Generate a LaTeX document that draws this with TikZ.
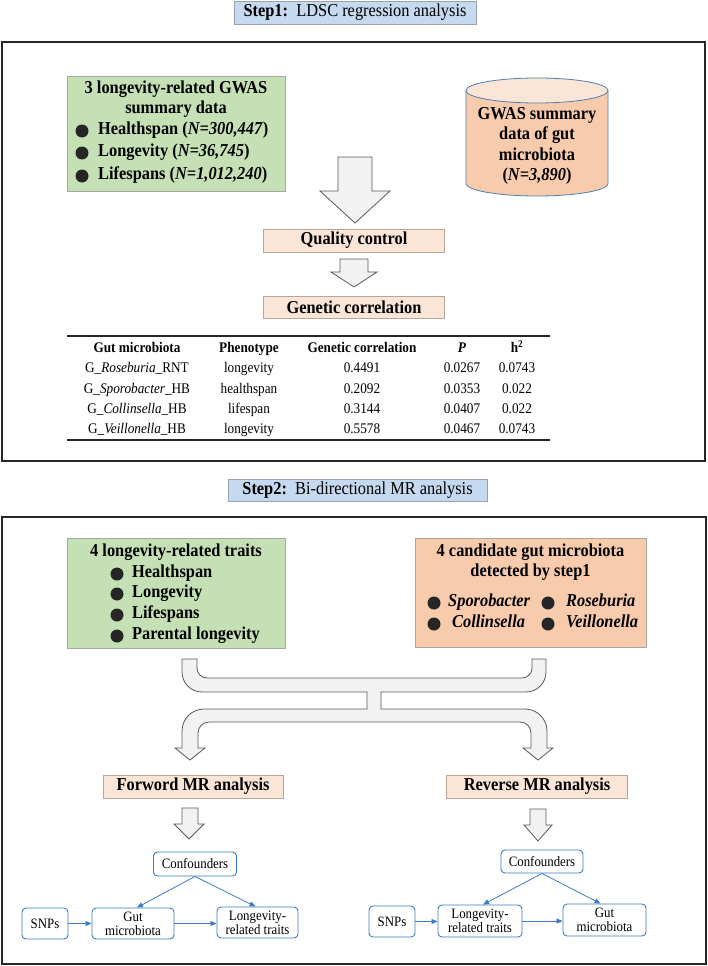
\documentclass[tikz,border=0pt]{standalone}
\usepackage{fontspec}
\setmainfont{Liberation Serif}[FakeStretch=0.9]
\usetikzlibrary{arrows.meta}
\definecolor{hdrblue}{HTML}{C5D9F1}
\definecolor{hdrline}{HTML}{9AA3AD}
\definecolor{grfill}{HTML}{C5E0B4}
\definecolor{orfill}{HTML}{F8CBAD}
\definecolor{orlight}{HTML}{FBE5D6}
\definecolor{boxline}{HTML}{A6A6A6}
\definecolor{pline}{HTML}{B8A498}
\definecolor{cylline}{HTML}{4F7FB0}
\definecolor{arrfill}{HTML}{F2F2F2}
\definecolor{arrline}{HTML}{5A5A5A}
\definecolor{flowblue}{HTML}{3D7CC4}
\newcommand\bigbold{\fontsize{18.2}{20.5}\selectfont\bfseries}
\newcommand\hdrfont{\fontsize{18.2}{20}\selectfont}
\newcommand\flowfont{\fontsize{14.3}{14}\selectfont}
\newcommand\tabfont{\fontsize{14.7}{16}\selectfont}
\begin{document}
\begin{tikzpicture}[x=1pt,y=-1pt,
  hdr/.style={draw=hdrline, fill=hdrblue, line width=0.8pt, inner sep=0pt, font=\hdrfont},
  frame/.style={draw=black!85, line width=1.6pt},
  gbox/.style={draw=boxline, fill=grfill, line width=0.8pt, inner sep=0pt},
  obox/.style={draw=boxline, fill=orfill, line width=0.8pt, inner sep=0pt},
  pbox/.style={draw=pline, fill=orlight, line width=0.8pt, font=\bigbold, inner sep=0pt},
  bigarrow/.style={draw=arrline, fill=arrfill, line width=0.8pt, line join=miter},
  bul/.style={fill=black!85, draw=none},
  txt/.style={inner sep=0pt, font=\bigbold, text height=0.72em, text depth=0.05em},
  ttxt/.style={inner sep=0pt, font=\tabfont, text height=0.72em, text depth=0.05em},
  flow/.style={draw=flowblue, line width=0.9pt, rounded corners=4pt, align=center, font=\flowfont, inner sep=0pt},
  flowarr/.style={draw=flowblue, line width=0.8pt, -{Triangle[length=6pt,width=5pt]}},
  rule/.style={line width=1.5pt, draw=black!85},
]
\useasboundingbox (0,0) rectangle (708,966);
\fill[white] (0,0) rectangle (708,966);

% frames
\draw[frame] (2,42) rectangle (705,461);
\draw[frame] (2,517) rectangle (706,964);

% headers
\node[hdr, minimum width=242, minimum height=23] (h1) at (355,12.5) {\textbf{Step1:}\ \ LDSC regression analysis};
\node[hdr, minimum width=259, minimum height=22] (h2) at (357.5,490) {\textbf{Step2:}\ \ Bi-directional MR analysis};

% ---------- Step 1 ----------
\node[gbox, minimum width=218, minimum height=115, anchor=north west] (g1) at (67,76) {};
\node[txt] (g1t1) at (176,90) {3 longevity-related GWAS};
\node[txt] (g1t2) at (176,110) {summary data};
\fill[bul] (82,131) circle[radius=6.5];
\fill[bul] (82,153) circle[radius=6.5];
\fill[bul] (82,176) circle[radius=6.5];
\node[txt, anchor=west] (g1b1) at (98,131) {Healthspan (\textit{N=300,447})};
\node[txt, anchor=west] (g1b2) at (98,153) {Longevity (\textit{N=36,745})};
\node[txt, anchor=west] (g1b3) at (98,176) {Lifespans (\textit{N=1,012,240})};

% cylinder
\draw[draw=cylline, fill=orfill, line width=0.8pt] (466,90.5) -- (466,183.5)
  arc[start angle=180, end angle=0, x radius=71, y radius=12.5] -- (608,90.5);
\draw[draw=cylline, fill=orlight, line width=0.8pt] (537,90.5) ellipse[x radius=71, y radius=12.5];
\node[inner sep=0pt, font=\bigbold, align=center] (cyl) at (537,146) {GWAS summary\\data of gut\\microbiota\\(\textit{N=3,890})};

% arrows and steps
\draw[bigarrow] (338,157) -- (372,157) -- (372,191) -- (390,191) -- (355,223) -- (320,191) -- (338,191) -- cycle;
\node[pbox, minimum width=181, minimum height=23] (qc) at (354,240.5) {Quality control};
\draw[bigarrow] (340,259) -- (368,259) -- (368,272) -- (377,272) -- (354,287) -- (331,272) -- (340,272) -- cycle;
\node[pbox, minimum width=181, minimum height=22] (gc) at (354,307) {Genetic correlation};

% table
\draw[rule] (67,336) -- (550,336);
\draw[rule] (67,440) -- (550,440);
\node[ttxt, font=\tabfont\bfseries] (th1) at (137,349) {Gut microbiota};
\node[ttxt, font=\tabfont\bfseries] (th2) at (249,349) {Phenotype};
\node[ttxt, font=\tabfont\bfseries] (th3) at (362,349) {Genetic correlation};
\node[ttxt, font=\tabfont\bfseries] (th4) at (462,349) {\textit{P}};
\node[ttxt, font=\tabfont\bfseries] (th5) at (517,349) {h\textsuperscript{2}};
\foreach \r/\y/\a/\b/\c/\d/\e in {
  1/369/{G\_\textit{Roseburia}\_RNT}/longevity/0.4491/0.0267/0.0743,
  2/390/{G\_\textit{Sporobacter}\_HB}/healthspan/0.2092/0.0353/0.022,
  3/410/{G\_\textit{Collinsella}\_HB}/lifespan/0.3144/0.0407/0.022,
  4/430/{G\_\textit{Veillonella}\_HB}/longevity/0.5578/0.0467/0.0743}{
  \node[ttxt] (t\r a) at (137,\y) {\a};
  \node[ttxt] (t\r b) at (249,\y) {\b};
  \node[ttxt] (t\r c) at (362,\y) {\c};
  \node[ttxt] (t\r d) at (462,\y) {\d};
  \node[ttxt] (t\r e) at (517,\y) {\e};
}

% ---------- Step 2 ----------
\node[gbox, minimum width=218, minimum height=110, anchor=north west] (g2) at (67,538) {};
\node[txt] (g2t) at (176,553) {4 longevity-related traits};
\foreach \i/\y in {1/574,2/594,3/615,4/636}{\fill[bul] (117,\y) circle[radius=6.5];}
\node[txt, anchor=west] (g2b1) at (132,574) {Healthspan};
\node[txt, anchor=west] (g2b2) at (132,594) {Longevity};
\node[txt, anchor=west] (g2b3) at (132,615) {Lifespans};
\node[txt, anchor=west] (g2b4) at (132,636) {Parental longevity};

\node[obox, minimum width=231, minimum height=109, anchor=north west] (o2) at (415,538) {};
\node[txt] (o2t1) at (530.5,553) {4 candidate gut microbiota};
\node[txt] (o2t2) at (530.5,573) {detected by step1};
\fill[bul] (434,603) circle[radius=6.5];
\fill[bul] (434,624) circle[radius=6.5];
\fill[bul] (548,603) circle[radius=6.5];
\fill[bul] (548,624) circle[radius=6.5];
\node[txt, anchor=west] (o2b1) at (448,603) {\textit{Sporobacter}};
\node[txt, anchor=west] (o2b2) at (452,624) {\textit{Collinsella}};
\node[txt, anchor=west] (o2b3) at (566,603) {\textit{Roseburia}};
\node[txt, anchor=west] (o2b4) at (566,624) {\textit{Veillonella}};

% merge / split arrow
\draw[bigarrow] (182,659) -- (182,672) arc[start angle=180, end angle=90, radius=20]
  -- (367,692) -- (367,709) -- (204,709) arc[start angle=270, end angle=180, radius=22]
  -- (182,748) -- (175,748) -- (190,760) -- (205,748) -- (198,748)
  -- (198,733) arc[start angle=180, end angle=270, radius=11]
  -- (520,722) arc[start angle=270, end angle=360, radius=11]
  -- (531,748) -- (523,748) -- (538,760) -- (553,748) -- (547,748)
  -- (547,731) arc[start angle=0, end angle=-90, radius=22]
  -- (381,709) -- (381,692) -- (526,692) arc[start angle=90, end angle=0, radius=20]
  -- (546,659) -- (532,659) -- (532,668) arc[start angle=0, end angle=90, radius=10]
  -- (207,678) arc[start angle=90, end angle=180, radius=10]
  -- (197,659) -- cycle;

\node[pbox, minimum width=180, minimum height=23] (fw) at (193,786.5) {Forword MR analysis};
\node[pbox, minimum width=181, minimum height=23] (rv) at (537,786.5) {Reverse MR analysis};

\draw[bigarrow] (182,808) -- (198,808) -- (198,824) -- (204,824) -- (189,839) -- (174,824) -- (182,824) -- cycle;
\draw[bigarrow] (530,809) -- (546,809) -- (546,825) -- (552,825) -- (538,841) -- (524,825) -- (530,825) -- cycle;

% forward diagram
\node[flow, minimum width=83, minimum height=24] (fc) at (195,864) {Confounders};
\node[flow, minimum width=46, minimum height=31] (fs) at (45,923.5) {SNPs};
\node[flow, minimum width=82, minimum height=31] (fg) at (133,923.5) {Gut\\microbiota};
\node[flow, minimum width=81, minimum height=31] (fl) at (257.5,922.5) {Longevity-\\related traits};
\draw[flowarr] (fc.south) -- ([xshift=4pt]fg.north);
\draw[flowarr] (fc.south) -- ([xshift=-2pt]fl.north);
\draw[flowarr] (fs.east) -- (fg.west);
\draw[flowarr] (fg.east) -- (fg.east -| fl.west);

% reverse diagram
\node[flow, minimum width=82, minimum height=23] (rc) at (542,861.5) {Confounders};
\node[flow, minimum width=46, minimum height=31] (rs) at (392,921.5) {SNPs};
\node[flow, minimum width=84, minimum height=32] (rl) at (480,921) {Longevity-\\related traits};
\node[flow, minimum width=83, minimum height=32] (rg) at (604.5,920) {Gut\\microbiota};
\draw[flowarr] (rc.south) -- ([xshift=3pt]rl.north);
\draw[flowarr] (rc.south) -- ([xshift=-4pt]rg.north);
\draw[flowarr] (rs.east) -- (rs.east -| rl.west);
\draw[flowarr] (rl.east) -- (rl.east -| rg.west);
\end{tikzpicture}
\end{document}
